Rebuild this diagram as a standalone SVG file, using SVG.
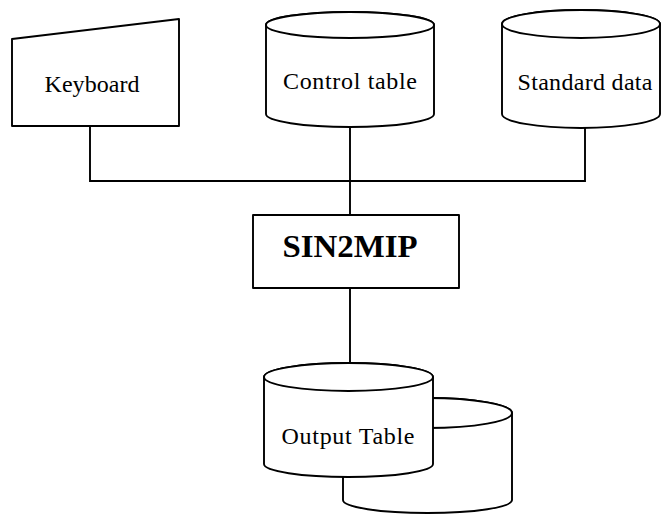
<svg xmlns="http://www.w3.org/2000/svg" width="661" height="515" viewBox="0 0 661 515">
  <style>
    .shape { fill: #ffffff; stroke: #000000; stroke-width: 1.9; stroke-linejoin: round; }
    .wire { fill: none; stroke: #000000; stroke-width: 1.9; }
    .label { font-family: "Liberation Serif", "Times New Roman", serif; font-size: 24px; fill: #000000; text-anchor: middle; }
    .title { font-family: "Liberation Serif", "Times New Roman", serif; font-size: 32px; font-weight: bold; fill: #000000; text-anchor: middle; }
  </style>
  <rect width="661" height="515" fill="#ffffff"/>

  <!-- connectors -->
  <g id="connectors">
    <path class="wire" d="M90,126 V181 H585 V128"/>
    <path class="wire" d="M350,127 V215"/>
    <path class="wire" d="M350,288 V363"/>
  </g>

  <!-- keyboard input (manual input trapezoid) -->
  <g id="keyboard">
    <path class="shape" d="M12,39 L179,19 L179,126 L12,126 Z"/>
    <text class="label" x="92" y="92" textLength="95" lengthAdjust="spacing">Keyboard</text>
  </g>

  <!-- control table store -->
  <g id="control-table">
    <path class="shape" d="M266,25 V114 A84,13 0 0 0 434,114 V25 A84,13 0 0 0 266,25 Z"/>
    <ellipse class="shape" cx="350" cy="25" rx="84" ry="13"/>
    <text class="label" x="350" y="89" textLength="134" lengthAdjust="spacing">Control table</text>
  </g>

  <!-- standard data store -->
  <g id="standard-data">
    <path class="shape" d="M502,24 V114 A79,14 0 0 0 660,114 V24 A79,14 0 0 0 502,24 Z"/>
    <ellipse class="shape" cx="581" cy="24" rx="79" ry="14"/>
    <text class="label" x="585" y="90" textLength="135" lengthAdjust="spacing">Standard data</text>
  </g>

  <!-- processing program -->
  <g id="sin2mip">
    <rect class="shape" x="253" y="215" width="206" height="73"/>
    <text class="title" x="350" y="257" textLength="135" lengthAdjust="spacingAndGlyphs">SIN2MIP</text>
  </g>

  <!-- output table (stacked stores) -->
  <g id="output-table">
    <path class="shape" d="M343,413 V500 A84.5,13 0 0 0 512,500 V413 A84.5,15 0 0 0 343,413 Z"/>
    <ellipse class="shape" cx="427.5" cy="413" rx="84.5" ry="15"/>
    <path class="shape" d="M264,377 V464 A84.5,13 0 0 0 433,464 V377 A84.5,14 0 0 0 264,377 Z"/>
    <ellipse class="shape" cx="348.5" cy="377" rx="84.5" ry="14"/>
    <text class="label" x="348" y="444" textLength="133" lengthAdjust="spacing">Output Table</text>
  </g>
</svg>
